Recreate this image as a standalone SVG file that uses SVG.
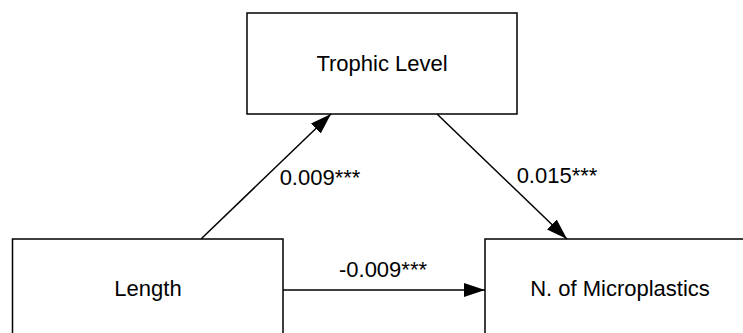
<svg xmlns="http://www.w3.org/2000/svg" width="743" height="333" viewBox="0 0 743 333">
  <style>
    .box { fill: #ffffff; stroke: #000000; stroke-width: 1.5; }
    .lbl { font-family: "Liberation Sans", Arial, sans-serif; font-size: 22px; fill: #000000; text-anchor: middle; }
    .edge { stroke: #000000; stroke-width: 1.5; fill: none; marker-end: url(#head); }
  </style>
  <defs>
    <marker id="head" markerUnits="userSpaceOnUse" markerWidth="22" markerHeight="16" viewBox="0 0 22 16" refX="21" refY="8" orient="auto">
      <path d="M0,1 L21,8 L0,15 Z" fill="#000000"/>
    </marker>
  </defs>
  <rect width="743" height="333" fill="#ffffff"/>

  <g id="trophic-level">
    <rect class="box" x="247" y="13" width="270" height="101"/>
    <text class="lbl" x="382" y="71">Trophic Level</text>
  </g>

  <g id="length">
    <rect class="box" x="12.5" y="239" width="270.5" height="110"/>
    <text class="lbl" x="148" y="296">Length</text>
  </g>

  <g id="microplastics">
    <rect class="box" x="485" y="239" width="275" height="110"/>
    <text class="lbl" x="620" y="296">N. of Microplastics</text>
  </g>

  <g id="connectors">
    <line class="edge" x1="201" y1="239" x2="331" y2="114"/>
    <line class="edge" x1="437" y1="114" x2="567" y2="239"/>
    <line class="edge" x1="283" y1="290" x2="485" y2="290"/>
    <text class="lbl" x="320" y="185">0.009***</text>
    <text class="lbl" x="557" y="183">0.015***</text>
    <text class="lbl" x="383" y="277">-0.009***</text>
  </g>
</svg>
